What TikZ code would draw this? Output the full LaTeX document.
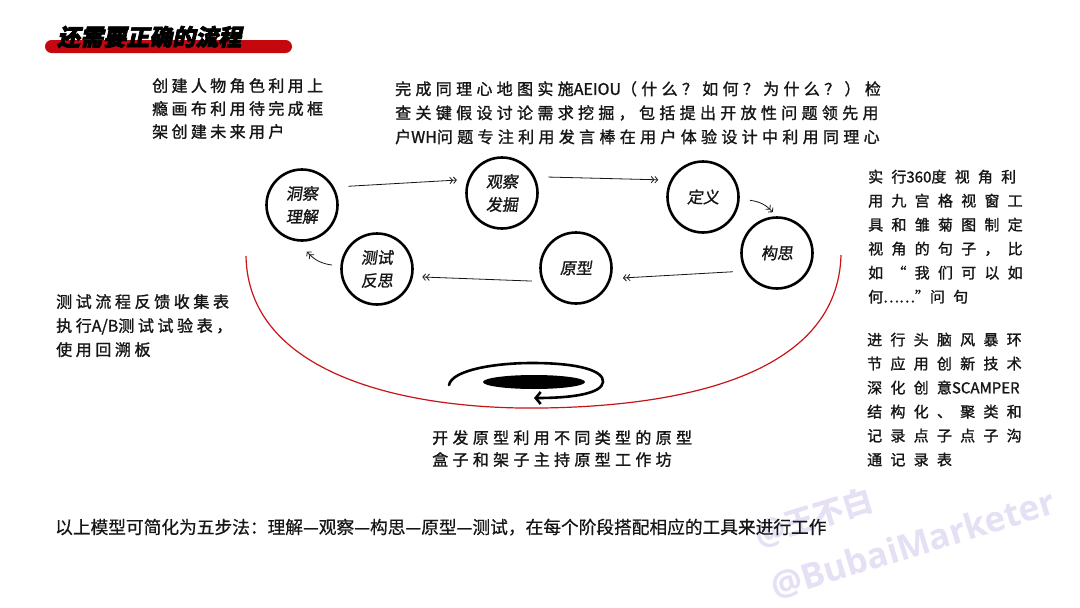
\documentclass[tikz,border=0pt]{standalone}
\usepackage{fontspec}
\setmainfont{Liberation Sans}
\newfontfamily\cjk{Noto Sans CJK SC}
\newfontfamily\cjkb[FakeBold=1.3]{Noto Sans CJK SC}
\newfontfamily\cjkm[FakeBold=0.6]{Noto Sans CJK SC}
\newfontfamily\cjkslant[FakeSlant=0.15,FakeBold=1.2]{Noto Sans CJK SC}
\newfontfamily\ttlfont[FakeSlant=0.22,FakeBold=3]{Noto Sans CJK SC}
\newfontfamily\wmfont{Open Sans}
\usetikzlibrary{arrows.meta,shapes.geometric}
\definecolor{barred}{RGB}{196,8,14}
\definecolor{arcred}{RGB}{200,20,24}
\definecolor{ink}{RGB}{22,22,22}
\definecolor{wmcol}{RGB}{230,224,245}
\newcommand\nls[1]{{\addfontfeature{LetterSpace=0}#1}}
\newcommand\hand[2]{\cjkb\fontsize{#1}{#2}\selectfont}
\newcommand\lab{\cjkslant\fontsize{16}{23}\selectfont}
\begin{document}
\begin{tikzpicture}[x=1pt,y=-1pt,
  stage/.style={circle, draw=black, line width=2.6pt, minimum size=71pt, inner sep=0pt, font=\lab, align=center, text=ink},
  flow/.style={line width=0.8pt, draw=ink, -{Straight Barb[length=2.8pt,width=6.5pt]Straight Barb[length=2.8pt,width=6.5pt]}},
  txt/.style={anchor=north west, inner sep=0pt, align=left, text=ink},
  wm/.style={text=wmcol, rotate=17, inner sep=0pt}
]
\fill[white] (0,0) rectangle (1080,608);
\useasboundingbox (0,0) rectangle (1080,608);

% title
\fill[barred, rounded corners=6.5pt] (45,40) rectangle (292,53);
\node[anchor=west, inner sep=0pt, text=black, font=\ttlfont\bfseries\fontsize{23}{26}\selectfont] (title) at (57,37) {还需要正确的流程};

% watermark
\node[wm, font=\cjk\bfseries\fontsize{30}{32}\selectfont] (wm1) at (814,518) {@王不白};
\node[wm, font=\wmfont\bfseries\fontsize{35}{38}\selectfont] (wm2) at (913,545) {@BubaiMarketer};

% red arc
\draw[arcred, line width=1.2pt] (246,256) .. controls (248,372) and (400,410) .. (542,408)
      .. controls (690,406) and (838,372) .. (841,255);

% stages
\node[stage] (c1) at (302,205) {洞察\\理解};
\node[stage] (c2) at (502,193) {观察\\发掘};
\node[stage] (c3) at (703,197) {定义};
\node[stage] (c4) at (777,253) {构思};
\node[stage] (c5) at (576,268) {原型};
\node[stage] (c6) at (377,269) {测试\\反思};

\draw[flow] ([shift={(22:50pt)}]c1.center) -- ([shift={(164:47pt)}]c2.center);
\draw[flow] ([shift={(19:49pt)}]c2.center) -- ([shift={(159:48pt)}]c3.center);
\draw[flow] ([shift={(-4:47pt)}]c3.center) to[bend left=20] ([shift={(96:41pt)}]c4.center);
\draw[flow] ([shift={(203:48pt)}]c4.center) -- ([shift={(-12:48pt)}]c5.center);
\draw[flow] ([shift={(196.5:46pt)}]c5.center) -- ([shift={(-10:46pt)}]c6.center);
\draw[flow] ([shift={(175:45pt)}]c6.center) to[bend left=20] ([shift={(-84:47pt)}]c1.center);

% swirl
\node[ellipse, fill=black, minimum width=102pt, minimum height=14pt, inner sep=0pt] (hole) at (534,382) {};
\draw[line width=2.6pt, line cap=round, -{Straight Barb[length=5pt,width=12pt]}]
  (449,385) .. controls (452,370) and (495,363) .. (532,363)
  .. controls (580,363) and (604,371) .. (603,382)
  .. controls (602,393) and (575,398) .. (534,398);

% texts
\node[txt, font={\hand{16}{23}\addfontfeature{LetterSpace=21}}] (tl) at (152,78)
 {创建人物角色利用上\\瘾画布利用待完成框\\架创建未来用户};
\node[txt, font={\hand{16}{24}\addfontfeature{LetterSpace=27}}] (tm) at (395,81)
 {完成同理心地图实施\nls{AEIOU}（什么？如何？为什么？）检\\查关键假设讨论需求挖掘，包括提出开放性问题领先用\\户\nls{WH}问题专注利用发言棒在用户体验设计中利用同理心};
\node[txt, font={\hand{15}{24}\addfontfeature{LetterSpace=55}}] (r1) at (868,169.5)
 {实行\nls{360}度视角利\\用九宫格视窗工\\具和雏菊图制定\\视角的句子，比\\如“我们可以如\\何\nls{……”}问句};
\node[txt, font={\hand{15}{24}\addfontfeature{LetterSpace=55}}] (r2) at (867,332.5)
 {进行头脑风暴环\\节应用创新技术\\深化创意\nls{SCAMPER}\\结构化、聚类和\\记录点子点子沟\\通记录表};
\node[txt, font={\hand{16}{24}\addfontfeature{LetterSpace=22.5}}] (lb) at (56,294)
 {测试流程反馈收集表\\执行\nls{A/B}测试试验表，\\使用回溯板};
\node[txt, font={\hand{16}{22}\addfontfeature{LetterSpace=27}}] (bm) at (432,430)
 {开发原型利用不同类型的原型\\盒子和架子主持原型工作坊};
\node[txt, font={\cjkm\fontsize{17.7}{20}\selectfont}] (sum) at (55,518.5)
 {以上模型可简化为五步法：理解—观察—构思—原型—测试，在每个阶段搭配相应的工具来进行工作};
\end{tikzpicture}
\end{document}
